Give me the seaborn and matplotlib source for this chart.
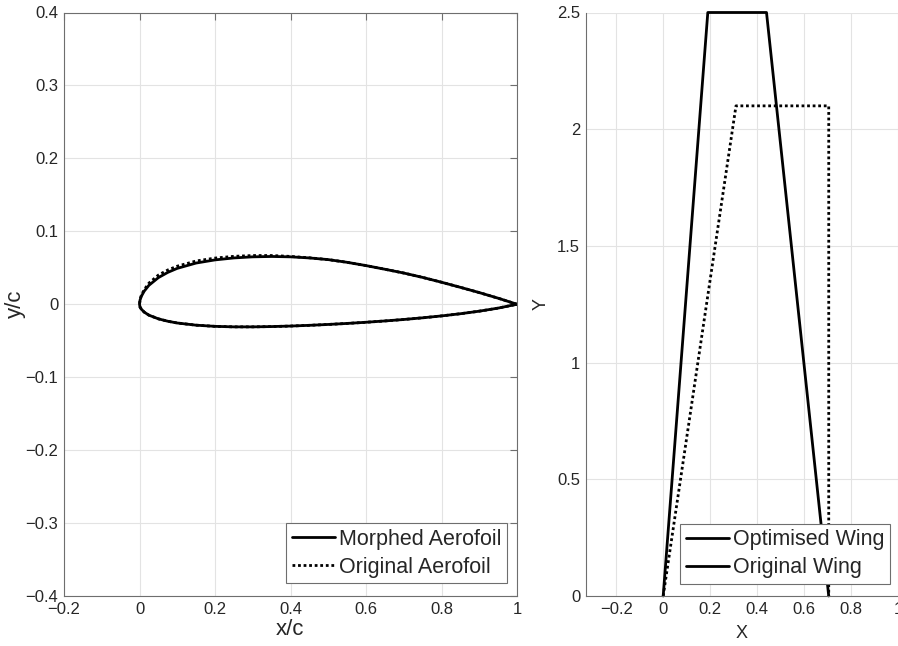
import matplotlib
matplotlib.use("Agg")
import matplotlib.pyplot as plt
from matplotlib.lines import Line2D
from matplotlib.ticker import FuncFormatter
import seaborn as sns
import pandas as pd

# ---------------- data ----------------
stations = [0.0, 0.0015, 0.005, 0.0125, 0.025, 0.05, 0.075, 0.1, 0.15, 0.2, 0.25, 0.3,
            0.35, 0.4, 0.45, 0.5, 0.55, 0.6, 0.65, 0.7, 0.75, 0.8, 0.85, 0.9, 0.95, 1.0]
morphed_upper = [0.0, 0.0058, 0.0110, 0.0180, 0.0260, 0.0365, 0.0437, 0.0492, 0.0565, 0.0608,
                 0.0635, 0.0650, 0.0655, 0.0650, 0.0635, 0.0612, 0.0575, 0.0530, 0.0480,
                 0.0428, 0.0368, 0.0302, 0.0232, 0.0160, 0.0083, 0.0]
original_upper = [0.0, 0.0068, 0.0125, 0.0200, 0.0290, 0.0400, 0.0470, 0.0522, 0.0593, 0.0633,
                  0.0657, 0.0668, 0.0668, 0.0656, 0.0637, 0.0612, 0.0575, 0.0530, 0.0480,
                  0.0428, 0.0368, 0.0302, 0.0232, 0.0160, 0.0083, 0.0]
lower_surface = [0.0, -0.0040, -0.0068, -0.0108, -0.0150, -0.0200, -0.0233, -0.0257, -0.0287,
                 -0.0303, -0.0310, -0.0310, -0.0306, -0.0299, -0.0289, -0.0277, -0.0263,
                 -0.0247, -0.0229, -0.0209, -0.0186, -0.0160, -0.0130, -0.0095, -0.0053, 0.0]

opt_wing_x = [0.0, 0.19, 0.44, 0.705]
opt_wing_y = [0.0, 2.5, 2.5, 0.0]
orig_wing_x = [0.0, 0.31, 0.705, 0.705]
orig_wing_y = [0.0, 2.1, 2.1, 0.0]

left_xticks = [-0.2, 0, 0.2, 0.4, 0.6, 0.8, 1.0]
left_yticks = [-0.4, -0.3, -0.2, -0.1, 0, 0.1, 0.2, 0.3, 0.4]
right_xticks = [-0.2, 0, 0.2, 0.4, 0.6, 0.8, 1.0]
right_yticks = [0, 0.5, 1.0, 1.5, 2.0, 2.5]

# ---------------- style ----------------
sns.set_theme(style="whitegrid")
plt.rcParams["font.family"] = ["Liberation Sans", "DejaVu Sans"]
plt.rcParams["axes.unicode_minus"] = True

SPINE = "#6e6e6e"
TXT = "#262626"
GRID = "#e3e3e3"


def outline(xs_up, ys_up, xs_lo, ys_lo):
    x = list(reversed(xs_up)) + list(xs_lo[1:])
    y = list(reversed(ys_up)) + list(ys_lo[1:])
    return pd.DataFrame({"x": x, "y": y})


fmt = FuncFormatter(lambda v, p: ("%g" % round(v, 6)).replace("-", "\u2212"))

fig = plt.figure(figsize=(8.98, 6.46), dpi=100)
ax1 = fig.add_axes([64 / 898, 50 / 646, 453 / 898, 583.5 / 646])
ax2 = fig.add_axes([585.7 / 898, 50 / 646, 312.3 / 898, 583.5 / 646])

# ---------------- left: aerofoil ----------------
df_orig = outline(stations, original_upper, stations, lower_surface)
df_morph = outline(stations, morphed_upper, stations, lower_surface)
sns.lineplot(data=df_orig, x="x", y="y", sort=False, estimator=None, ax=ax1,
             color="black", lw=2.0, linestyle=(0, (1, 1)))
sns.lineplot(data=df_morph, x="x", y="y", sort=False, estimator=None, ax=ax1,
             color="black", lw=2.0)
ax1.set_xlim(-0.2, 1.0)
ax1.set_ylim(-0.4, 0.4)
ax1.set_xticks(left_xticks)
ax1.set_yticks(left_yticks)
ax1.set_xlabel("x/c", fontsize=16, color=TXT, labelpad=2)
ax1.set_ylabel("y/c", fontsize=16, color=TXT, labelpad=0)
h1 = [Line2D([], [], color="black", lw=2.0),
      Line2D([], [], color="black", lw=2.0, linestyle=(0, (1, 1)))]
leg1 = ax1.legend(h1, ["Morphed Aerofoil", "Original Aerofoil"], loc="lower right",
                  bbox_to_anchor=(0.978, 0.022), borderaxespad=0, fontsize=15.5,
                  frameon=True, fancybox=False, framealpha=1, edgecolor=SPINE,
                  handlelength=2.0, handletextpad=0.2, labelspacing=0.33, borderpad=0.25)
leg1.get_frame().set_linewidth(0.8)
for sp in ax1.spines.values():
    sp.set_visible(True)
    sp.set_color(SPINE)
    sp.set_linewidth(0.8)
ax1.tick_params(direction="in", length=5, width=0.8, color=SPINE, labelsize=12,
                labelcolor=TXT, top=True, right=True, pad=4)

# ---------------- right: wing planform ----------------
sns.lineplot(x=orig_wing_x, y=orig_wing_y, sort=False, estimator=None, ax=ax2,
             color="black", lw=2.0, linestyle=(0, (1, 1)))
sns.lineplot(x=opt_wing_x, y=opt_wing_y, sort=False, estimator=None, ax=ax2,
             color="black", lw=2.0, clip_on=False)
ax2.set_xlim(-0.33, 1.0)
ax2.set_ylim(0, 2.5)
ax2.set_xticks(right_xticks)
ax2.set_yticks(right_yticks)
ax2.set_xlabel("X", fontsize=13, color=TXT, labelpad=6)
ax2.set_ylabel("Y", fontsize=13, color=TXT, labelpad=5)
h2 = [Line2D([], [], color="black", lw=2.0), Line2D([], [], color="black", lw=2.0)]
leg2 = ax2.legend(h2, ["Optimised Wing", "Original Wing"], loc="lower right",
                  bbox_to_anchor=(0.974, 0.021), borderaxespad=0, fontsize=15.5,
                  frameon=True, fancybox=False, framealpha=1, edgecolor=SPINE,
                  handlelength=2.0, handletextpad=0.2, labelspacing=0.33, borderpad=0.25)
leg2.get_frame().set_linewidth(0.8)
ax2.spines["top"].set_visible(False)
ax2.spines["right"].set_visible(False)
for s in ("left", "bottom"):
    ax2.spines[s].set_visible(True)
    ax2.spines[s].set_color(SPINE)
    ax2.spines[s].set_linewidth(0.8)
ax2.tick_params(direction="in", length=5, width=0.8, color=SPINE, labelsize=12,
                labelcolor=TXT, pad=4)

for ax in (ax1, ax2):
    ax.xaxis.set_major_formatter(fmt)
    ax.yaxis.set_major_formatter(fmt)
    ax.grid(True, color=GRID, lw=0.8)
    ax.set_facecolor("white")
    ax.set_axisbelow(True)

fig.savefig("out.png", dpi=100)
